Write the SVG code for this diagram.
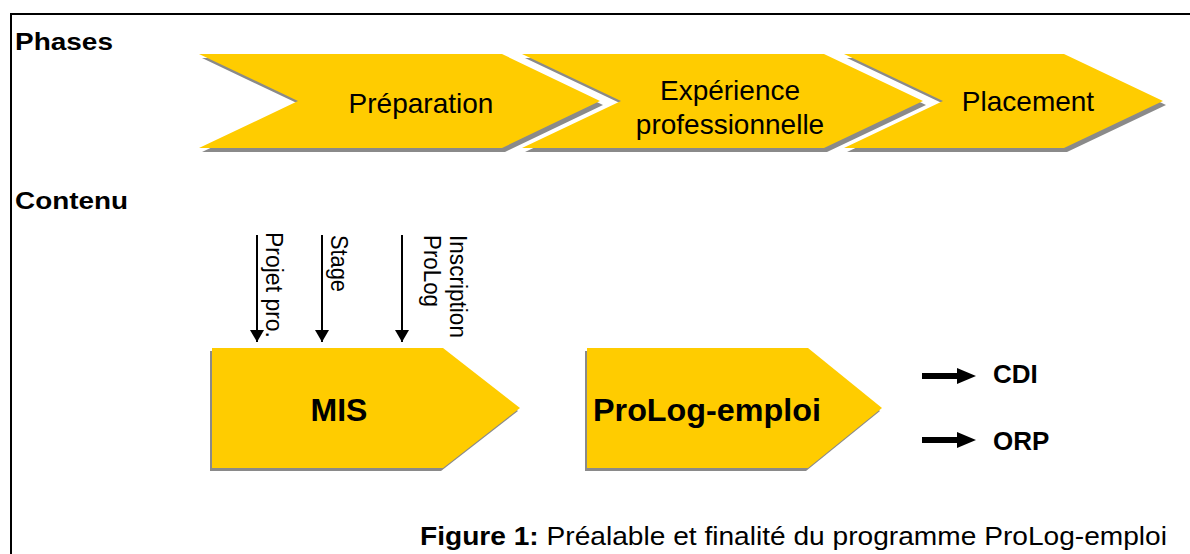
<svg xmlns="http://www.w3.org/2000/svg" width="1190" height="554" viewBox="0 0 1190 554">
<style>
.y{fill:#FFCC00}
.sh{fill:#8a8a8a}
.t{font-family:"Liberation Sans",Arial,sans-serif;fill:#000}
.b{font-weight:bold}
.v{stroke:#000;stroke-width:2}
</style>
<defs>
<marker id="ah" viewBox="0 0 12 14" refX="12" refY="7" markerWidth="12" markerHeight="14" markerUnits="userSpaceOnUse" orient="auto">
<path d="M0,0 L12,7 L0,14 Z" fill="#000"/>
</marker>
</defs>
<rect width="1190" height="554" fill="#fff"/>
<path d="M11,554 V14 H1190" fill="none" stroke="#000" stroke-width="2"/>
<text class="t b" x="15" y="50" font-size="24" textLength="98" lengthAdjust="spacingAndGlyphs">Phases</text>
<text class="t b" x="15" y="209" font-size="24" textLength="113" lengthAdjust="spacingAndGlyphs">Contenu</text>

<g id="phase-preparation">
<polygon class="sh" points="202,58 505,58 603,105 505,152 202,152 301,105"/>
<polygon class="y" points="199,54 502,54 600,101 502,148 199,148 298,101"/>
<text class="t" x="421" y="113" font-size="28" text-anchor="middle">Préparation</text>
</g>
<g id="phase-experience">
<polygon class="sh" points="525,58 827,58 926,105 827,152 525,152 624,105"/>
<polygon class="y" points="522,54 824,54 923,101 824,148 522,148 621,101"/>
<text class="t" x="730" y="100" font-size="28" text-anchor="middle">Expérience</text>
<text class="t" x="730" y="134" font-size="28" text-anchor="middle">professionnelle</text>
</g>
<g id="phase-placement">
<polygon class="sh" points="847,58 1067,58 1166,105 1067,152 847,152 946,105"/>
<polygon class="y" points="844,54 1064,54 1163,101 1064,148 844,148 943,101"/>
<text class="t" x="1028" y="111" font-size="28" text-anchor="middle">Placement</text>
</g>

<g id="mis">
<polygon class="sh" points="210,351 441,351 518,411 441,471 210,471"/>
<polygon class="y" points="212,348 443,348 520,408 443,468 212,468"/>
<text class="t b" x="339" y="421" font-size="32" text-anchor="middle">MIS</text>
</g>
<g id="prolog-emploi">
<polygon class="sh" points="585,351 806,351 880,411 806,471 585,471"/>
<polygon class="y" points="587,348 808,348 882,408 808,468 587,468"/>
<text class="t b" x="593" y="421" font-size="32" textLength="228" lengthAdjust="spacingAndGlyphs">ProLog-emploi</text>
</g>

<g id="outcomes">
<text class="t b" x="993" y="383" font-size="26">CDI</text>
<text class="t b" x="993" y="450" font-size="26">ORP</text>
</g>

<g id="connectors">
<line class="v" x1="257" y1="235" x2="257" y2="342" marker-end="url(#ah)"/>
<line class="v" x1="322" y1="235" x2="322" y2="342" marker-end="url(#ah)"/>
<line class="v" x1="402" y1="235" x2="402" y2="342" marker-end="url(#ah)"/>
<polygon points="922,373 957,373 957,368 976,376 957,384 957,379 922,379" fill="#000"/>
<polygon points="922,437 957,437 957,432 976,440 957,448 957,443 922,443" fill="#000"/>
</g>

<g id="input-labels">
<text class="t" transform="translate(266,232) rotate(90)" font-size="23" textLength="106" lengthAdjust="spacingAndGlyphs">Projet pro.</text>
<text class="t" transform="translate(331,235) rotate(90)" font-size="23" textLength="57" lengthAdjust="spacingAndGlyphs">Stage</text>
<text class="t" transform="translate(450,235) rotate(90)" font-size="23" textLength="103" lengthAdjust="spacingAndGlyphs">Inscription</text>
<text class="t" transform="translate(424,235) rotate(90)" font-size="23" textLength="72" lengthAdjust="spacingAndGlyphs">ProLog</text>
</g>

<text class="t" x="420" y="545" font-size="26" textLength="747" lengthAdjust="spacingAndGlyphs"><tspan class="b">Figure 1:</tspan> Préalable et finalité du programme ProLog-emploi</text>
</svg>
